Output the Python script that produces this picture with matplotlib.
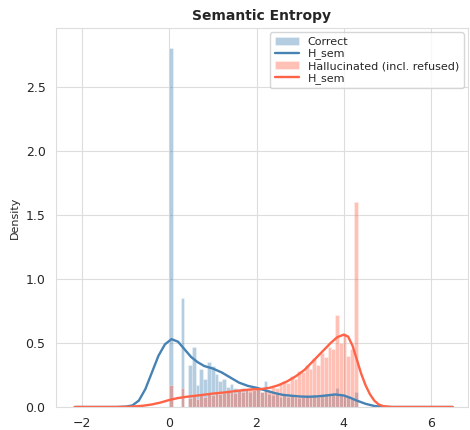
import numpy as np
import matplotlib
matplotlib.use("Agg")
import matplotlib.pyplot as plt
import seaborn as sns

# Histogram bins shared by both groups (50 bins over [0, log2(20)])
bin_start = 0.0
bin_stop = 4.32
n_bins = 50

correct_heights = [
    2.80, 0.00, 0.00, 0.85, 0.00, 0.33, 0.47, 0.17, 0.30, 0.22,
    0.35, 0.32, 0.26, 0.20, 0.22, 0.16, 0.18, 0.15, 0.14, 0.15,
    0.13, 0.12, 0.13, 0.16, 0.12, 0.20, 0.10, 0.09, 0.10, 0.08,
    0.09, 0.08, 0.09, 0.08, 0.07, 0.08, 0.09, 0.08, 0.09, 0.08,
    0.09, 0.10, 0.09, 0.10, 0.15, 0.10, 0.09, 0.08, 0.07, 0.12,
]

halluc_heights = [
    0.17, 0.00, 0.00, 0.15, 0.00, 0.07, 0.10, 0.06, 0.09, 0.08,
    0.10, 0.09, 0.11, 0.10, 0.11, 0.12, 0.12, 0.11, 0.13, 0.12,
    0.13, 0.14, 0.13, 0.14, 0.12, 0.14, 0.13, 0.16, 0.15, 0.18,
    0.20, 0.19, 0.24, 0.22, 0.28, 0.27, 0.33, 0.30, 0.38, 0.33,
    0.42, 0.39, 0.47, 0.45, 0.72, 0.50, 0.58, 0.40, 0.45, 1.60,
]

# Kernel density estimates of H_sem for each group
kde_correct_x = [-2.17, -1.2, -1.0, -0.85, -0.7, -0.55, -0.4, -0.25, -0.1, 0.05,
                 0.2, 0.35, 0.5, 0.65, 0.8, 1.0, 1.2, 1.4, 1.6, 1.8,
                 2.0, 2.2, 2.4, 2.6, 2.8, 3.0, 3.2, 3.4, 3.6, 3.8,
                 4.0, 4.15, 4.3, 4.5, 4.7, 4.9, 5.1, 6.5]
kde_correct_y = [0.0, 0.0, 0.003, 0.012, 0.05, 0.14, 0.27, 0.40, 0.49, 0.53,
                 0.51, 0.45, 0.39, 0.35, 0.32, 0.30, 0.27, 0.23, 0.19, 0.165,
                 0.15, 0.13, 0.11, 0.095, 0.088, 0.082, 0.080, 0.083, 0.090, 0.098,
                 0.090, 0.072, 0.050, 0.025, 0.008, 0.001, 0.0, 0.0]

kde_halluc_x = [-2.17, -1.2, -0.9, -0.6, -0.4, -0.2, 0.0, 0.2, 0.4, 0.7,
                1.0, 1.3, 1.6, 1.9, 2.1, 2.3, 2.5, 2.7, 2.9, 3.1,
                3.3, 3.5, 3.7, 3.85, 4.0, 4.1, 4.2, 4.3, 4.4, 4.5,
                4.6, 4.7, 4.8, 4.9, 5.1, 6.5]
kde_halluc_y = [0.0, 0.0, 0.002, 0.010, 0.020, 0.035, 0.055, 0.070, 0.080, 0.092,
                0.105, 0.115, 0.128, 0.138, 0.140, 0.150, 0.170, 0.200, 0.240, 0.290,
                0.360, 0.430, 0.500, 0.545, 0.565, 0.550, 0.480, 0.370, 0.260, 0.170,
                0.100, 0.050, 0.020, 0.007, 0.0, 0.0]

labels = ["Correct", "H_sem", "Hallucinated (incl. refused)", "H_sem"]
blue = "steelblue"
red = "tomato"

sns.set_style("whitegrid")
plt.rcParams["font.family"] = ["DejaVu Sans"]

fig = plt.figure(figsize=(4.7, 4.3), dpi=100)
ax = fig.add_axes([56 / 470, 23 / 430, 412 / 470, 379 / 430])

edges = np.linspace(bin_start, bin_stop, n_bins + 1)
width = edges[1] - edges[0]

h_correct = ax.bar(edges[:-1], correct_heights, width=width, align="edge",
                   color=blue, alpha=0.4, edgecolor="white", linewidth=0.5)
l_correct, = ax.plot(kde_correct_x, kde_correct_y, color=blue, lw=1.7)
h_halluc = ax.bar(edges[:-1], halluc_heights, width=width, align="edge",
                  color=red, alpha=0.4, edgecolor="white", linewidth=0.5)
l_halluc, = ax.plot(kde_halluc_x, kde_halluc_y, color=red, lw=1.7)

ax.set_xlim(-2.6, 6.85)
ax.set_ylim(0, 2.96)
ax.set_xticks([-2, 0, 2, 4, 6])
ax.set_yticks([0.0, 0.5, 1.0, 1.5, 2.0, 2.5])
ax.tick_params(labelsize=9, pad=4)
ax.set_ylabel("Density", fontsize=8)
ax.set_title("Semantic Entropy", fontsize=10, fontweight="bold", pad=6)
for s in ax.spines.values():
    s.set_color("#dddddd")
ax.grid(color="#dddddd", lw=0.8)

ax.legend([h_correct, l_correct, h_halluc, l_halluc], labels,
          loc="upper right", fontsize=8, frameon=True, borderaxespad=0.4,
          handlelength=2.2, labelspacing=0.15)

fig.savefig("out.png", dpi=100)
